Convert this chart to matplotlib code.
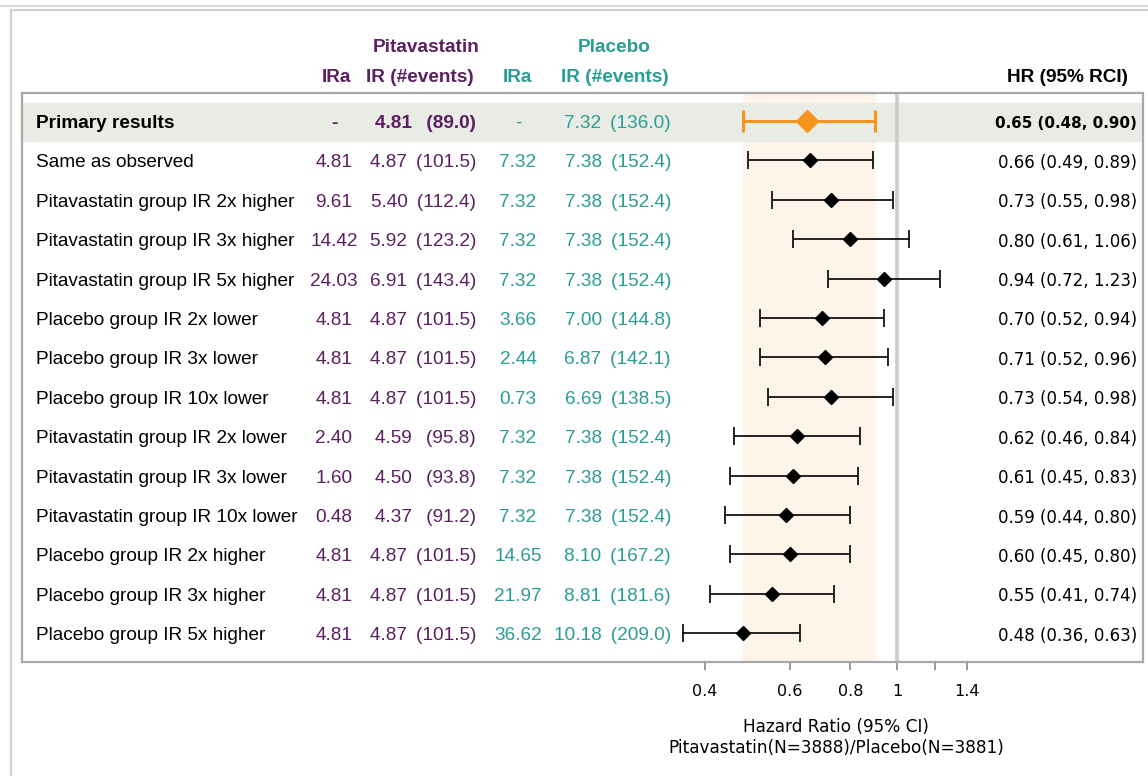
import numpy as np
import matplotlib.pyplot as plt
from matplotlib.lines import Line2D
import matplotlib.transforms as mtransforms

labels = ["Primary results", "Same as observed",
          "Pitavastatin group IR 2x higher", "Pitavastatin group IR 3x higher",
          "Pitavastatin group IR 5x higher", "Placebo group IR 2x lower",
          "Placebo group IR 3x lower", "Placebo group IR 10x lower",
          "Pitavastatin group IR 2x lower", "Pitavastatin group IR 3x lower",
          "Pitavastatin group IR 10x lower", "Placebo group IR 2x higher",
          "Placebo group IR 3x higher", "Placebo group IR 5x higher"]

pit_ira = [None, 4.81, 9.61, 14.42, 24.03, 4.81, 4.81, 4.81, 2.40, 1.60, 0.48, 4.81, 4.81, 4.81]
pit_ir = [4.81, 4.87, 5.40, 5.92, 6.91, 4.87, 4.87, 4.87, 4.59, 4.50, 4.37, 4.87, 4.87, 4.87]
pit_ev = [89.0, 101.5, 112.4, 123.2, 143.4, 101.5, 101.5, 101.5, 95.8, 93.8, 91.2, 101.5, 101.5, 101.5]
pla_ira = [None, 7.32, 7.32, 7.32, 7.32, 3.66, 2.44, 0.73, 7.32, 7.32, 7.32, 14.65, 21.97, 36.62]
pla_ir = [7.32, 7.38, 7.38, 7.38, 7.38, 7.00, 6.87, 6.69, 7.38, 7.38, 7.38, 8.10, 8.81, 10.18]
pla_ev = [136.0, 152.4, 152.4, 152.4, 152.4, 144.8, 142.1, 138.5, 152.4, 152.4, 152.4, 167.2, 181.6, 209.0]
hr = [0.65, 0.66, 0.73, 0.80, 0.94, 0.70, 0.71, 0.73, 0.62, 0.61, 0.59, 0.60, 0.55, 0.48]
lo = [0.48, 0.49, 0.55, 0.61, 0.72, 0.52, 0.52, 0.54, 0.46, 0.45, 0.44, 0.45, 0.41, 0.36]
hi = [0.90, 0.89, 0.98, 1.06, 1.23, 0.94, 0.96, 0.98, 0.84, 0.83, 0.80, 0.80, 0.74, 0.63]

tick_vals = [0.4, 0.6, 0.8, 1, 1.2, 1.4]
tick_labels = ["0.4", "0.6", "0.8", "1", "", "1.4"]

PURPLE = "#5c1f62"
TEAL = "#2a9d94"
ORANGE = "#f7941d"
W, H = 1148, 776

fig = plt.figure(figsize=(W / 100, H / 100), dpi=100)
ax = fig.add_axes([22 / W, 1 - 662 / H, (1143 - 22) / W, (662 - 93) / H])
ax.set_xscale("log")
ax.set_xlim(0.01535, 3.2355)
ax.set_ylim(13.73, -0.71)

n = len(labels)
rows = np.arange(n)

# shading
ax.axvspan(lo[0], hi[0], color="#fef4ea", zorder=0)
ax.axhspan(-0.46, 0.5, color="#e9ece5", zorder=0.5)
ax.axvline(1, color="#cccccc", lw=2.6, zorder=1)

# forest marks
for i in rows:
    if i == 0:
        ax.errorbar(hr[i], i, xerr=[[hr[i] - lo[i]], [hi[i] - hr[i]]], fmt="D",
                    color=ORANGE, ms=11.5, lw=2.2, capsize=8, capthick=2.2, zorder=3)
    else:
        ax.errorbar(hr[i], i, xerr=[[hr[i] - lo[i]], [hi[i] - hr[i]]], fmt="D",
                    color="black", ms=7, lw=1.2, capsize=6.5, capthick=1.2, zorder=3)

# pixel x, data y; nudged down a little so glyphs sit on the row centre
px = mtransforms.blended_transform_factory(mtransforms.IdentityTransform(), ax.transData)
px = mtransforms.offset_copy(px, fig=fig, y=-2.5, units="dots")

tfont = ["Liberation Sans", "DejaVu Sans"]
fs = 13.7
for i in rows:
    bold = "bold" if i == 0 else "normal"
    ax.text(36, i, labels[i], transform=px, ha="left", va="center",
            fontsize=fs, family=tfont, weight=bold)
    # pitavastatin
    s = "-" if pit_ira[i] is None else f"{pit_ira[i]:.2f}"
    ax.text(334, i, s, transform=px, ha="center", va="center",
            fontsize=fs, family=tfont, color=PURPLE, weight=bold)
    ev = f"({pit_ev[i]:.1f})"
    ax.text(476, i, f"{pit_ir[i]:.2f}\u2009 {ev:>7}", transform=px, ha="right", va="center",
            fontsize=fs, family=tfont, color=PURPLE, weight=bold)
    # placebo
    s = "-" if pla_ira[i] is None else f"{pla_ira[i]:.2f}"
    ax.text(518, i, s, transform=px, ha="center", va="center",
            fontsize=fs, family=tfont, color=TEAL)
    ev = f"({pla_ev[i]:.1f})"
    ax.text(671, i, f"{pla_ir[i]:.2f}\u2009 {ev:>7}", transform=px, ha="right", va="center",
            fontsize=fs, family=tfont, color=TEAL)
    # HR
    ax.text(1137, i, f"{hr[i]:.2f} ({lo[i]:.2f}, {hi[i]:.2f})", transform=px,
            ha="right", va="center", fontsize=10.9 if i == 0 else 12,
            family="DejaVu Sans", weight=bold)

# headers
def ftext(x, y, s, **kw):
    fig.text(x / W, 1 - y / H, s, va="center", **kw)


ftext(426, 48, "Pitavastatin", ha="center", fontsize=fs, family=tfont, weight="bold", color=PURPLE)
ftext(420, 77, "IR (#events)", ha="center", fontsize=fs, family=tfont, weight="bold", color=PURPLE)
ftext(336, 77, "IRa", ha="center", fontsize=fs, family=tfont, weight="bold", color=PURPLE)
ftext(614, 48, "Placebo", ha="center", fontsize=fs, family=tfont, weight="bold", color=TEAL)
ftext(615, 77, "IR (#events)", ha="center", fontsize=fs, family=tfont, weight="bold", color=TEAL)
ftext(517, 77, "IRa", ha="center", fontsize=fs, family=tfont, weight="bold", color=TEAL)
ftext(1128, 77, "HR (95% RCI)", ha="right", fontsize=fs, family=tfont, weight="bold")

# axis
ax.set_yticks([])
ax.xaxis.set_minor_locator(plt.NullLocator())
ax.set_xticks(tick_vals)
ax.set_xticklabels(tick_labels)
ax.tick_params(axis="x", direction="out", length=6, width=1.2, color="#888888",
               labelsize=11.5, pad=10)
for sp in ax.spines.values():
    sp.set_color("#a8a8a8")
    sp.set_linewidth(1.6)

xc = np.sqrt(tick_vals[0] * tick_vals[-1])
ax.text(xc, -0.114, "Hazard Ratio (95% CI)", transform=ax.get_xaxis_transform(),
        ha="center", va="center", fontsize=12.2)
ax.text(xc, -0.151, "Pitavastatin(N=3888)/Placebo(N=3881)", transform=ax.get_xaxis_transform(),
        ha="center", va="center", fontsize=12.2)

# page frame lines
fig.add_artist(Line2D([0, 1], [1 - 5.5 / H, 1 - 5.5 / H], color="#d8d8d2", lw=1.5, transform=fig.transFigure))
fig.add_artist(Line2D([11 / W, 1], [1 - 9.5 / H, 1 - 9.5 / H], color="#d0d0d0", lw=1.5, transform=fig.transFigure))
fig.add_artist(Line2D([11 / W, 11 / W], [0, 1 - 9.5 / H], color="#d0d0d0", lw=1.5, transform=fig.transFigure))

fig.savefig("out.png", dpi=100)
